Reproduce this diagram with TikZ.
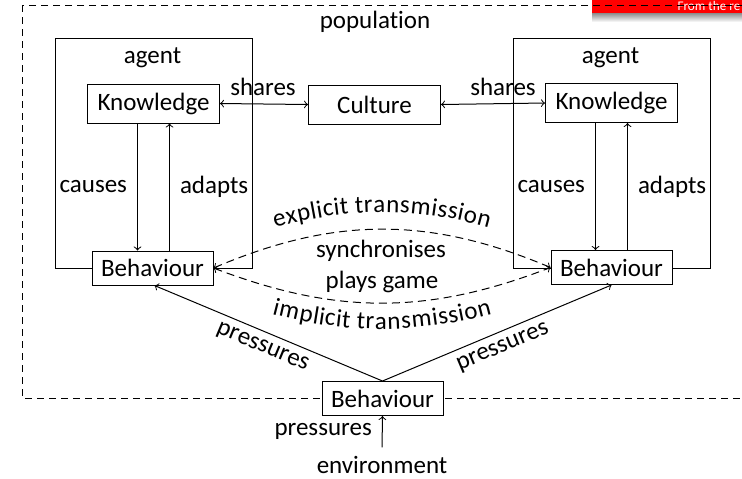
\documentclass[tikz,border=0pt]{standalone}
\usepackage{fontspec}
\setmainfont{Carlito}[Ligatures=NoCommon]
\usetikzlibrary{decorations.text}
\newcommand\dfont{\fontsize{12.5}{15}\selectfont}
\newcommand\bannerfont{\fontsize{6.6}{8}\selectfont}

\begin{document}
\begin{tikzpicture}[x=0.5pt, y=0.5pt, font=\dfont, line width=0.5pt,
  frame/.style={draw, inner sep=0pt},
  bbox/.style={draw, fill=white, inner sep=0pt, minimum width=60.5pt, minimum height=17pt},
  kbox/.style={draw, fill=white, inner sep=0pt, minimum width=66pt, minimum height=19.5pt},
  lbl/.style={inner sep=0pt, anchor=base},
  side/.style={inner sep=5pt},
  popdash/.style={dash pattern=on 3.5pt off 2.5pt},
  arcdash/.style={dash pattern=on 4pt off 2.5pt},
  pathtext/.style={decorate, decoration={text along path, text align=center, raise=#1}}]

\useasboundingbox (0,0) rectangle (742,-478);
\clip (0,0) rectangle (742,-478);

% banner strip in the top right corner
\shade[top color=black!45, bottom color=white] (592,-13) rectangle (742,-22);
\fill[red] (592,0) rectangle (742,-13);
\node[lbl, anchor=base west, text=white, font=\bannerfont] (banner) at (677,-10.5) {From the re};

% population frame
\draw[popdash] (22,-5) rectangle (800,-398);
\node[lbl] (pop) at (375,-28) {population};

% agent frames
\node[frame, minimum width=98.5pt, minimum height=115pt] (agentL) at (153.5,-153) {};
\node[frame, minimum width=98.5pt, minimum height=115pt] (agentR) at (611.5,-153) {};
\node[lbl] (agL) at (152.5,-63) {agent};
\node[lbl] (agR) at (610.5,-63) {agent};

% knowledge, culture and behaviour boxes
\node[kbox] (kL) at (153.5,-103.5) {Knowledge};
\node[kbox] (cu) at (374.5,-104.5) {Culture};
\node[kbox] (kR) at (611.5,-103) {Knowledge};
\node[bbox] (bL) at (152.5,-268) {Behaviour};
\node[bbox] (bR) at (611.5,-267.5) {Behaviour};
\node[bbox] (bB) at (382.5,-398.5) {Behaviour};
\node[inner sep=4.2pt] (env) at (382,-465) {environment};

% sharing with the culture
\draw[<->] (kL.east) -- (cu.west);
\draw[<->] (cu.east) -- (kR.west);
\node[lbl] (shL) at (263,-95) {shares};
\node[lbl] (shR) at (503,-95) {shares};

% inside each agent
\draw[->] ([xshift=-8pt]kL.south) -- ([xshift=-8pt]kL.south |- bL.north) node[midway, left, side] {causes};
\draw[<-] ([xshift=8pt]kL.south) -- ([xshift=8pt]kL.south |- bL.north) node[midway, right, side] {adapts};
\draw[->] ([xshift=-8pt]kR.south) -- ([xshift=-8pt]kR.south |- bR.north) node[midway, left, side] {causes};
\draw[<-] ([xshift=8pt]kR.south) -- ([xshift=8pt]kR.south |- bR.north) node[midway, right, side] {adapts};

% interaction between the two agents
\draw[arcdash, <->] (bL.east) to[bend left=23] (bR.west);
\draw[arcdash, <->] (bL.east) to[bend right=21] (bR.west);
\path[pathtext=8.5pt, decoration={text={|\dfont|explicit transmission}}] (bL.east) to[bend left=23] (bR.west);
\path[pathtext=-13pt, decoration={text={|\dfont|implicit transmission}}] (bL.east) to[bend right=21] (bR.west);
\node[lbl] (sync) at (381,-257) {synchronises};
\node[lbl] (game) at (382,-288) {plays game};

% pressures from the shared behaviour
\draw[->] (bB.north) -- ([xshift=1pt]bL.south);
\draw[->] (bB.north) -- (bR.south);
\path[pathtext=-10pt, decoration={text={|\dfont|pressures}}] ([xshift=1pt]bL.south) -- (bB.north);
\path[pathtext=-10pt, decoration={text={|\dfont|pressures}}] (bB.north) -- (bR.south);
\draw[->] (env.north) -- (bB.south) node[midway, left, side] {pressures};

\end{tikzpicture}
\end{document}
